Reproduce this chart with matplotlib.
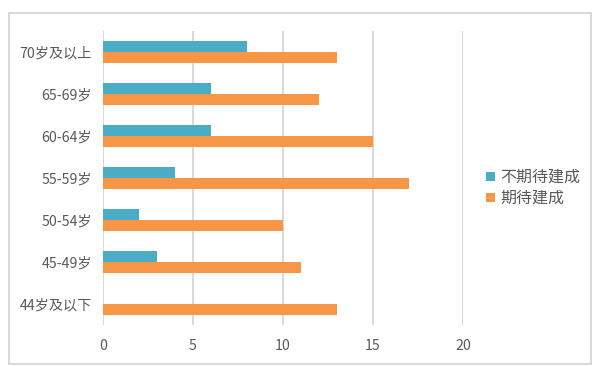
import matplotlib.pyplot as plt
import matplotlib.patches as mpatches
import numpy as np

plt.rcParams['font.family'] = ['Noto Sans CJK SC', 'DejaVu Sans']

categories = ['44岁及以下', '45-49岁', '50-54岁', '55-59岁', '60-64岁', '65-69岁', '70岁及以上']
not_expect = [0, 3, 2, 4, 6, 6, 8]
expect = [13, 11, 10, 17, 15, 12, 13]
series_names = ['不期待建成', '期待建成']
xticks = [0, 5, 10, 15, 20]

teal = '#4BACC6'
orange = '#F79646'
grey_text = '#595959'
grid_col = '#D9D9D9'

fig = plt.figure(figsize=(6.13, 3.70), dpi=100)
ax = fig.add_axes([103 / 613, 1 - 325 / 370, 360 / 613, 294 / 370])

y = np.arange(len(categories))
h = 0.27
ax.barh(y + h / 2, not_expect, height=h, color=teal, label=series_names[0], zorder=3)
ax.barh(y - h / 2, expect, height=h, color=orange, label=series_names[1], zorder=3)

ax.set_xlim(0, 20)
ax.set_ylim(-0.5, len(categories) - 0.5)
ax.set_xticks(xticks)
ax.set_yticks(y)
ax.set_yticklabels(categories)
ax.tick_params(axis='both', length=0, labelsize=10.2, colors=grey_text)
ax.tick_params(axis='x', pad=10)
ax.tick_params(axis='y', pad=8)
ax.xaxis.grid(True, color=grid_col, linewidth=1.5, zorder=0)
for s in ax.spines.values():
    s.set_visible(False)

# outer chart border
fig.patches.append(mpatches.Rectangle((9 / 613, 1 - 364 / 370), 582 / 613, 351 / 370,
                                      transform=fig.transFigure, fill=False,
                                      edgecolor=grid_col, linewidth=1.5))

fig.legend(loc='center left', bbox_to_anchor=(480 / 613, 1 - 188 / 370), frameon=False,
           fontsize=11.5, labelcolor=grey_text, handlelength=0.55, handleheight=0.55,
           handletextpad=0.3, labelspacing=0.25, borderaxespad=0)

fig.savefig('out.png', dpi=100)
